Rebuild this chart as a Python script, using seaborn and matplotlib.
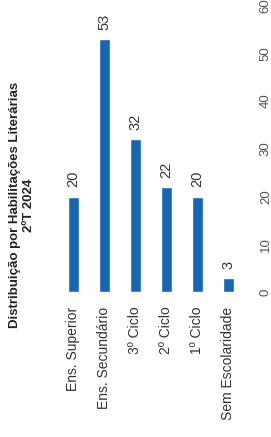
import matplotlib
matplotlib.use('Agg')
import matplotlib.pyplot as plt
import seaborn as sns
import pandas as pd

categories = ['Ens. Superior', 'Ens. Secundário', '3º Ciclo', '2º Ciclo', '1º Ciclo', 'Sem Escolaridade']
counts = [20, 53, 32, 22, 20, 3]
value_ticks = [0, 10, 20, 30, 40, 50, 60]

sns.set_style('white')
plt.rcParams['font.family'] = ['Liberation Sans', 'DejaVu Sans']

df = pd.DataFrame({'category': categories, 'count': counts})

fig = plt.figure(figsize=(2.71, 4.37), dpi=100)
ax = fig.add_axes([0.214, 0.332, 0.686, 0.655])

sns.barplot(data=df, x='category', y='count', color='#1666b5', width=0.37,
            saturation=1, ax=ax)
ax.set_xlim(-0.5, 5.5)
ax.set_ylim(0, 60)
ax.set_xlabel('')
ax.set_ylabel('')
sns.despine(ax=ax, left=True, bottom=True, right=True, top=True)

# value axis on the right, text turned like the rest of the page
ax.yaxis.tick_right()
ax.set_yticks(value_ticks)
ax.set_yticklabels([str(v) for v in value_ticks], rotation=90, va='center',
                   fontsize=9.5, color='#555555')
ax.tick_params(axis='y', length=0, pad=11.5)
ax.tick_params(axis='x', length=0, pad=10.5)
for lab in ax.get_xticklabels():
    lab.set_rotation(90)
    lab.set_fontsize(10)
    lab.set_color('#333333')
    lab.set_va('top')
    lab.set_ha('center')

for cont in ax.containers:
    ax.bar_label(cont, labels=[str(v) for v in counts], rotation=90,
                 padding=6.5, fontsize=10.5, color='#333333')

fig.text(0.08, 0.531, 'Distribuição por Habilitações Literárias\n2ºT 2024',
         rotation=90, ha='center', va='center', multialignment='center',
         fontsize=9.5, fontweight='bold', color='#222222', linespacing=1.25)

fig.savefig('out.png', dpi=100)
